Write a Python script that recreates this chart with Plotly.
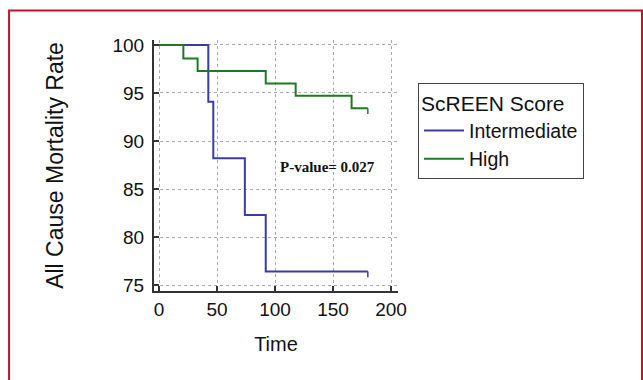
import plotly.graph_objects as go

# Data
inter_time = [0, 42.5, 46.8, 74, 92, 180]
inter_rate = [100, 94.1, 88.2, 82.3, 76.4, 76.4]
high_time = [0, 21, 33.3, 92, 117.8, 166, 180]
high_rate = [100, 98.6, 97.3, 96.0, 94.7, 93.4, 93.4]
censor_drop = 0.6
x_ticks = [0, 50, 100, 150, 200]
y_ticks = [75, 80, 85, 90, 95, 100]
p_text = "P-value= 0.027"

BLUE = "#3b3ba8"
GREEN = "#1f7a1f"
FONT = "Liberation Sans, Arial, sans-serif"

fig = go.Figure()
fig.add_trace(go.Scatter(x=inter_time, y=inter_rate, mode="lines", name="Intermediate",
                         line=dict(color=BLUE, width=2, shape="hv")))
fig.add_trace(go.Scatter(x=high_time, y=high_rate, mode="lines", name="High",
                         line=dict(color=GREEN, width=2, shape="hv")))
# censor ticks at end of follow-up
fig.add_trace(go.Scatter(x=[inter_time[-1]], y=[inter_rate[-1]], mode="markers",
                         marker=dict(size=1, color=BLUE, opacity=0), showlegend=False,
                         error_y=dict(type="data", symmetric=False, array=[0], arrayminus=[censor_drop],
                                      width=0, thickness=1.5, color=BLUE)))
fig.add_trace(go.Scatter(x=[high_time[-1]], y=[high_rate[-1]], mode="markers",
                         marker=dict(size=1, color=GREEN, opacity=0), showlegend=False,
                         error_y=dict(type="data", symmetric=False, array=[0], arrayminus=[censor_drop],
                                      width=0, thickness=1.5, color=GREEN)))

fig.add_annotation(x=145, y=87.3, text="<b>" + p_text + "</b>", showarrow=False,
                   font=dict(family="Liberation Serif, Times New Roman, serif", size=15, color="#111"))

fig.add_shape(type="rect", xref="paper", yref="paper", x0=-0.594, x1=2, y0=-1, y1=1.1175,
              line=dict(color="#c8102e", width=2), fillcolor="rgba(0,0,0,0)", layer="above")

fig.update_layout(
    width=643, height=380,
    margin=dict(l=154, r=245, t=40, b=89),
    paper_bgcolor="white", plot_bgcolor="white",
    font=dict(family=FONT, color="#111"),
    legend=dict(x=1.082, y=0.829, xanchor="left", yanchor="top", itemwidth=40,
                title=dict(text="ScREEN Score", font=dict(size=21, family=FONT, color="#111")),
                font=dict(size=19.5, family=FONT, color="#111"),
                bgcolor="white", bordercolor="#444", borderwidth=1),
    xaxis=dict(range=[-4.31, 206], tickvals=x_ticks, ticks="inside", ticklen=5, tickwidth=2,
               tickcolor="#333", showline=True, linecolor="#333", linewidth=2,
               showgrid=True, gridcolor="#aaaaaa", griddash="3px,3px", gridwidth=1, zeroline=False,
               tickfont=dict(size=19), title=dict(text="Time", font=dict(size=20), standoff=18)),
    yaxis=dict(range=[74.375, 100.52], tickvals=y_ticks, ticks="inside", ticklen=5, tickwidth=2,
               tickcolor="#333", showline=True, linecolor="#333", linewidth=2,
               showgrid=True, gridcolor="#aaaaaa", griddash="3px,3px", gridwidth=1, zeroline=False,
               tickfont=dict(size=19), ticklabelstandoff=4,
               title=dict(text="All Cause Mortality Rate", font=dict(size=23), standoff=42)),
)

fig.write_html("out.html")
